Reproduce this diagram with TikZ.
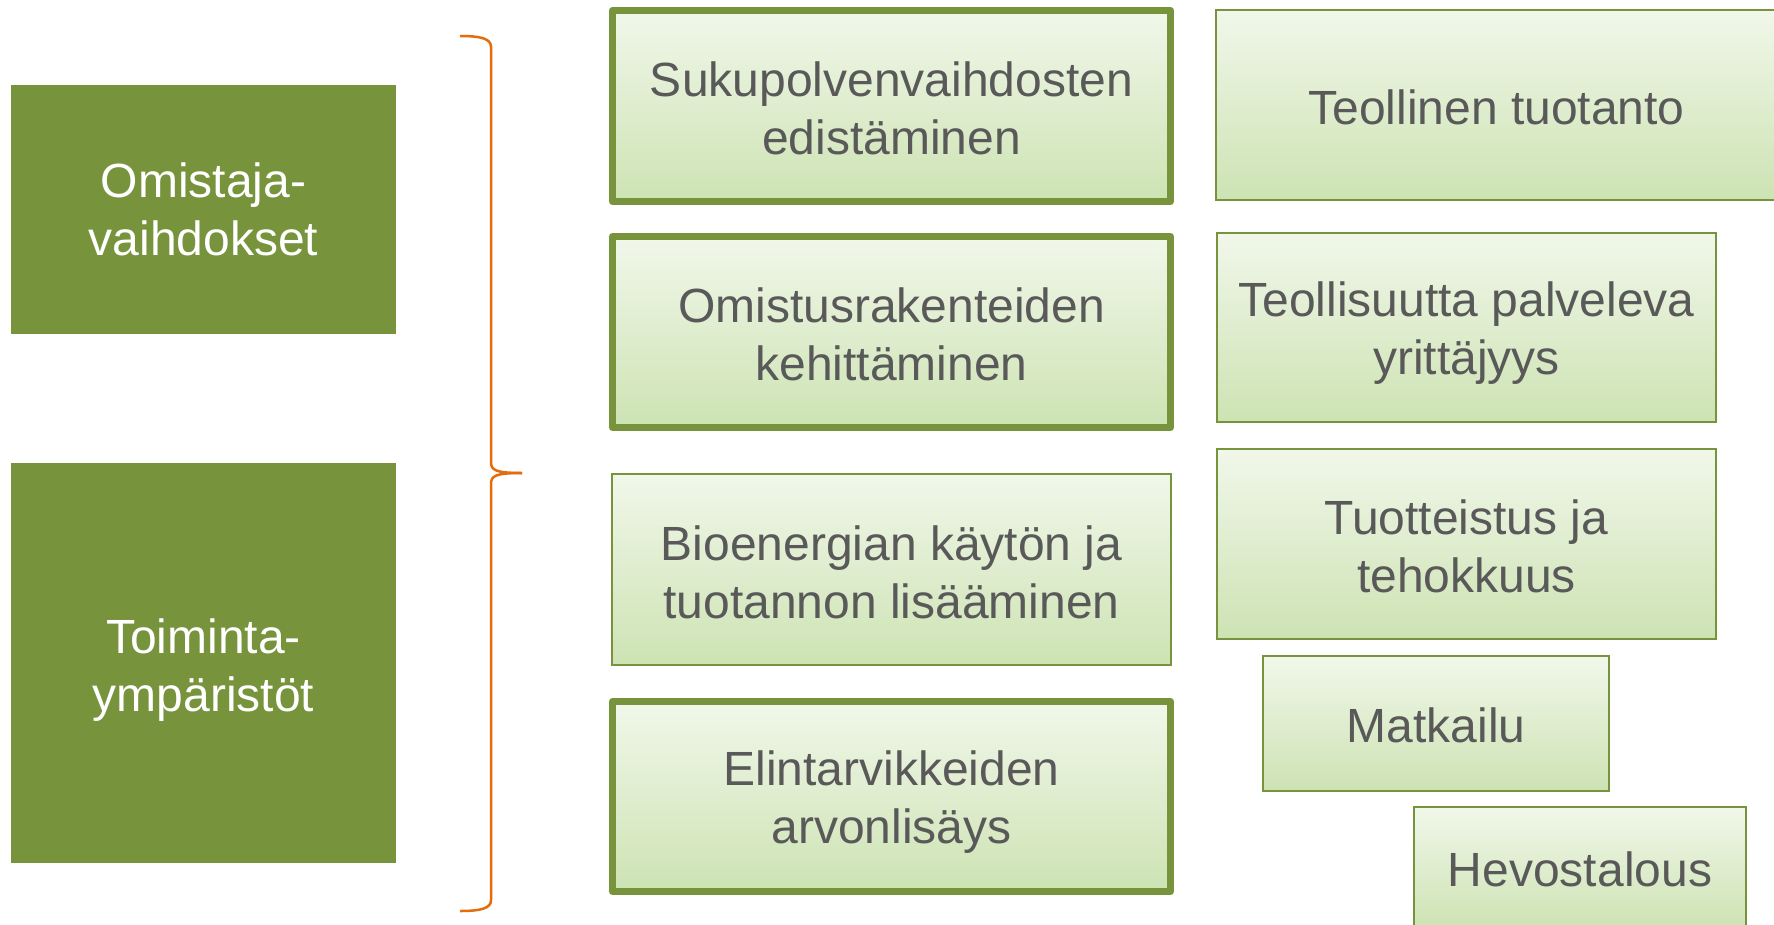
\documentclass[tikz,border=0pt]{standalone}
\usepackage{fontspec}
\setmainfont{Liberation Sans}
\definecolor{olivegreen}{HTML}{77933C}
\definecolor{gtop}{HTML}{F1F7EA}
\definecolor{gbot}{HTML}{CDE3B3}
\definecolor{txtgray}{HTML}{595959}
\definecolor{bracecol}{HTML}{E46C0A}
\begin{document}
\begin{tikzpicture}[x=1pt,y=-1pt,
  basebox/.style={rectangle, inner sep=0pt},
  thinbox/.style={basebox, draw=olivegreen, line width=2pt,
    top color=gtop, bottom color=gbot},
  thickbox/.style={basebox, draw=olivegreen, line width=7pt, line join=round,
    top color=gtop, bottom color=gbot},
  darkbox/.style={basebox, fill=olivegreen},
  txt/.style={inner sep=0pt, align=center, text=txtgray,
    font=\fontsize{48}{58}\selectfont},
  wtxt/.style={txt, text=white},
  bracestyle/.style={draw=bracecol, line width=2.5pt}]
\useasboundingbox (0,0) rectangle (1774,924);
\fill[white] (0,0) rectangle (1774,924);

% left category boxes
\node[darkbox, minimum width=385pt, minimum height=249pt] (omistaja) at (203.5,209.5) {};
\node[wtxt] (omistaja-t) at (omistaja.center) {Omistaja-\\vaihdokset};
\node[darkbox, minimum width=385pt, minimum height=400pt] (toiminta) at (203.5,663) {};
\node[wtxt, yshift=-7pt] (toiminta-t) at (toiminta.center) {Toiminta-\\ympäristöt};

% brace
\draw[bracestyle] (460,36) .. controls (482,36) and (491,39) .. (491,47)
  -- (491,462) .. controls (491,470) and (495,473) .. (522,473);
\draw[bracestyle] (522,473) .. controls (495,473) and (491,476) .. (491,484)
  -- (491,900) .. controls (491,908) and (482,911) .. (460,911);

% middle column
\node[thickbox, minimum width=558pt, minimum height=191pt] (suku) at (891.5,106) {};
\node[txt, yshift=-2pt] (suku-t) at (suku.center) {Sukupolvenvaihdosten\\edistäminen};
\node[thickbox, minimum width=558pt, minimum height=191pt] (omistus) at (891.5,332) {};
\node[txt, yshift=-2pt] (omistus-t) at (omistus.center) {Omistusrakenteiden\\kehittäminen};
\node[thinbox, minimum width=559pt, minimum height=191pt] (bio) at (891.5,569.5) {};
\node[txt, yshift=-3pt] (bio-t) at (bio.center) {Bioenergian käytön ja\\tuotannon lisääminen};
\node[thickbox, minimum width=558pt, minimum height=190pt] (elin) at (891.5,796.5) {};
\node[txt, yshift=-6pt] (elin-t) at (elin.center) {Elintarvikkeiden\\arvonlisäys};

% right column
\node[thinbox, minimum width=561pt, minimum height=190pt] (teollinen) at (1496.5,105) {};
\node[txt, yshift=-2pt] (teollinen-t) at (teollinen.center) {Teollinen tuotanto};
\node[thinbox, minimum width=499pt, minimum height=189pt] (palv) at (1466.5,327.5) {};
\node[txt, yshift=-6pt] (palv-t) at (palv.center) {Teollisuutta palveleva\\yrittäjyys};
\node[thinbox, minimum width=499pt, minimum height=190pt] (tuott) at (1466.5,544) {};
\node[txt, yshift=-2pt] (tuott-t) at (tuott.center) {Tuotteistus ja\\tehokkuus};
\node[thinbox, minimum width=346pt, minimum height=135pt] (matk) at (1436,723.5) {};
\node[txt, yshift=-2pt] (matk-t) at (matk.center) {Matkailu};
\node[thinbox, minimum width=332pt, minimum height=122pt] (hevo) at (1580,868) {};
\node[txt, yshift=-1pt] (hevo-t) at (hevo.center) {Hevostalous};
\end{tikzpicture}
\end{document}
